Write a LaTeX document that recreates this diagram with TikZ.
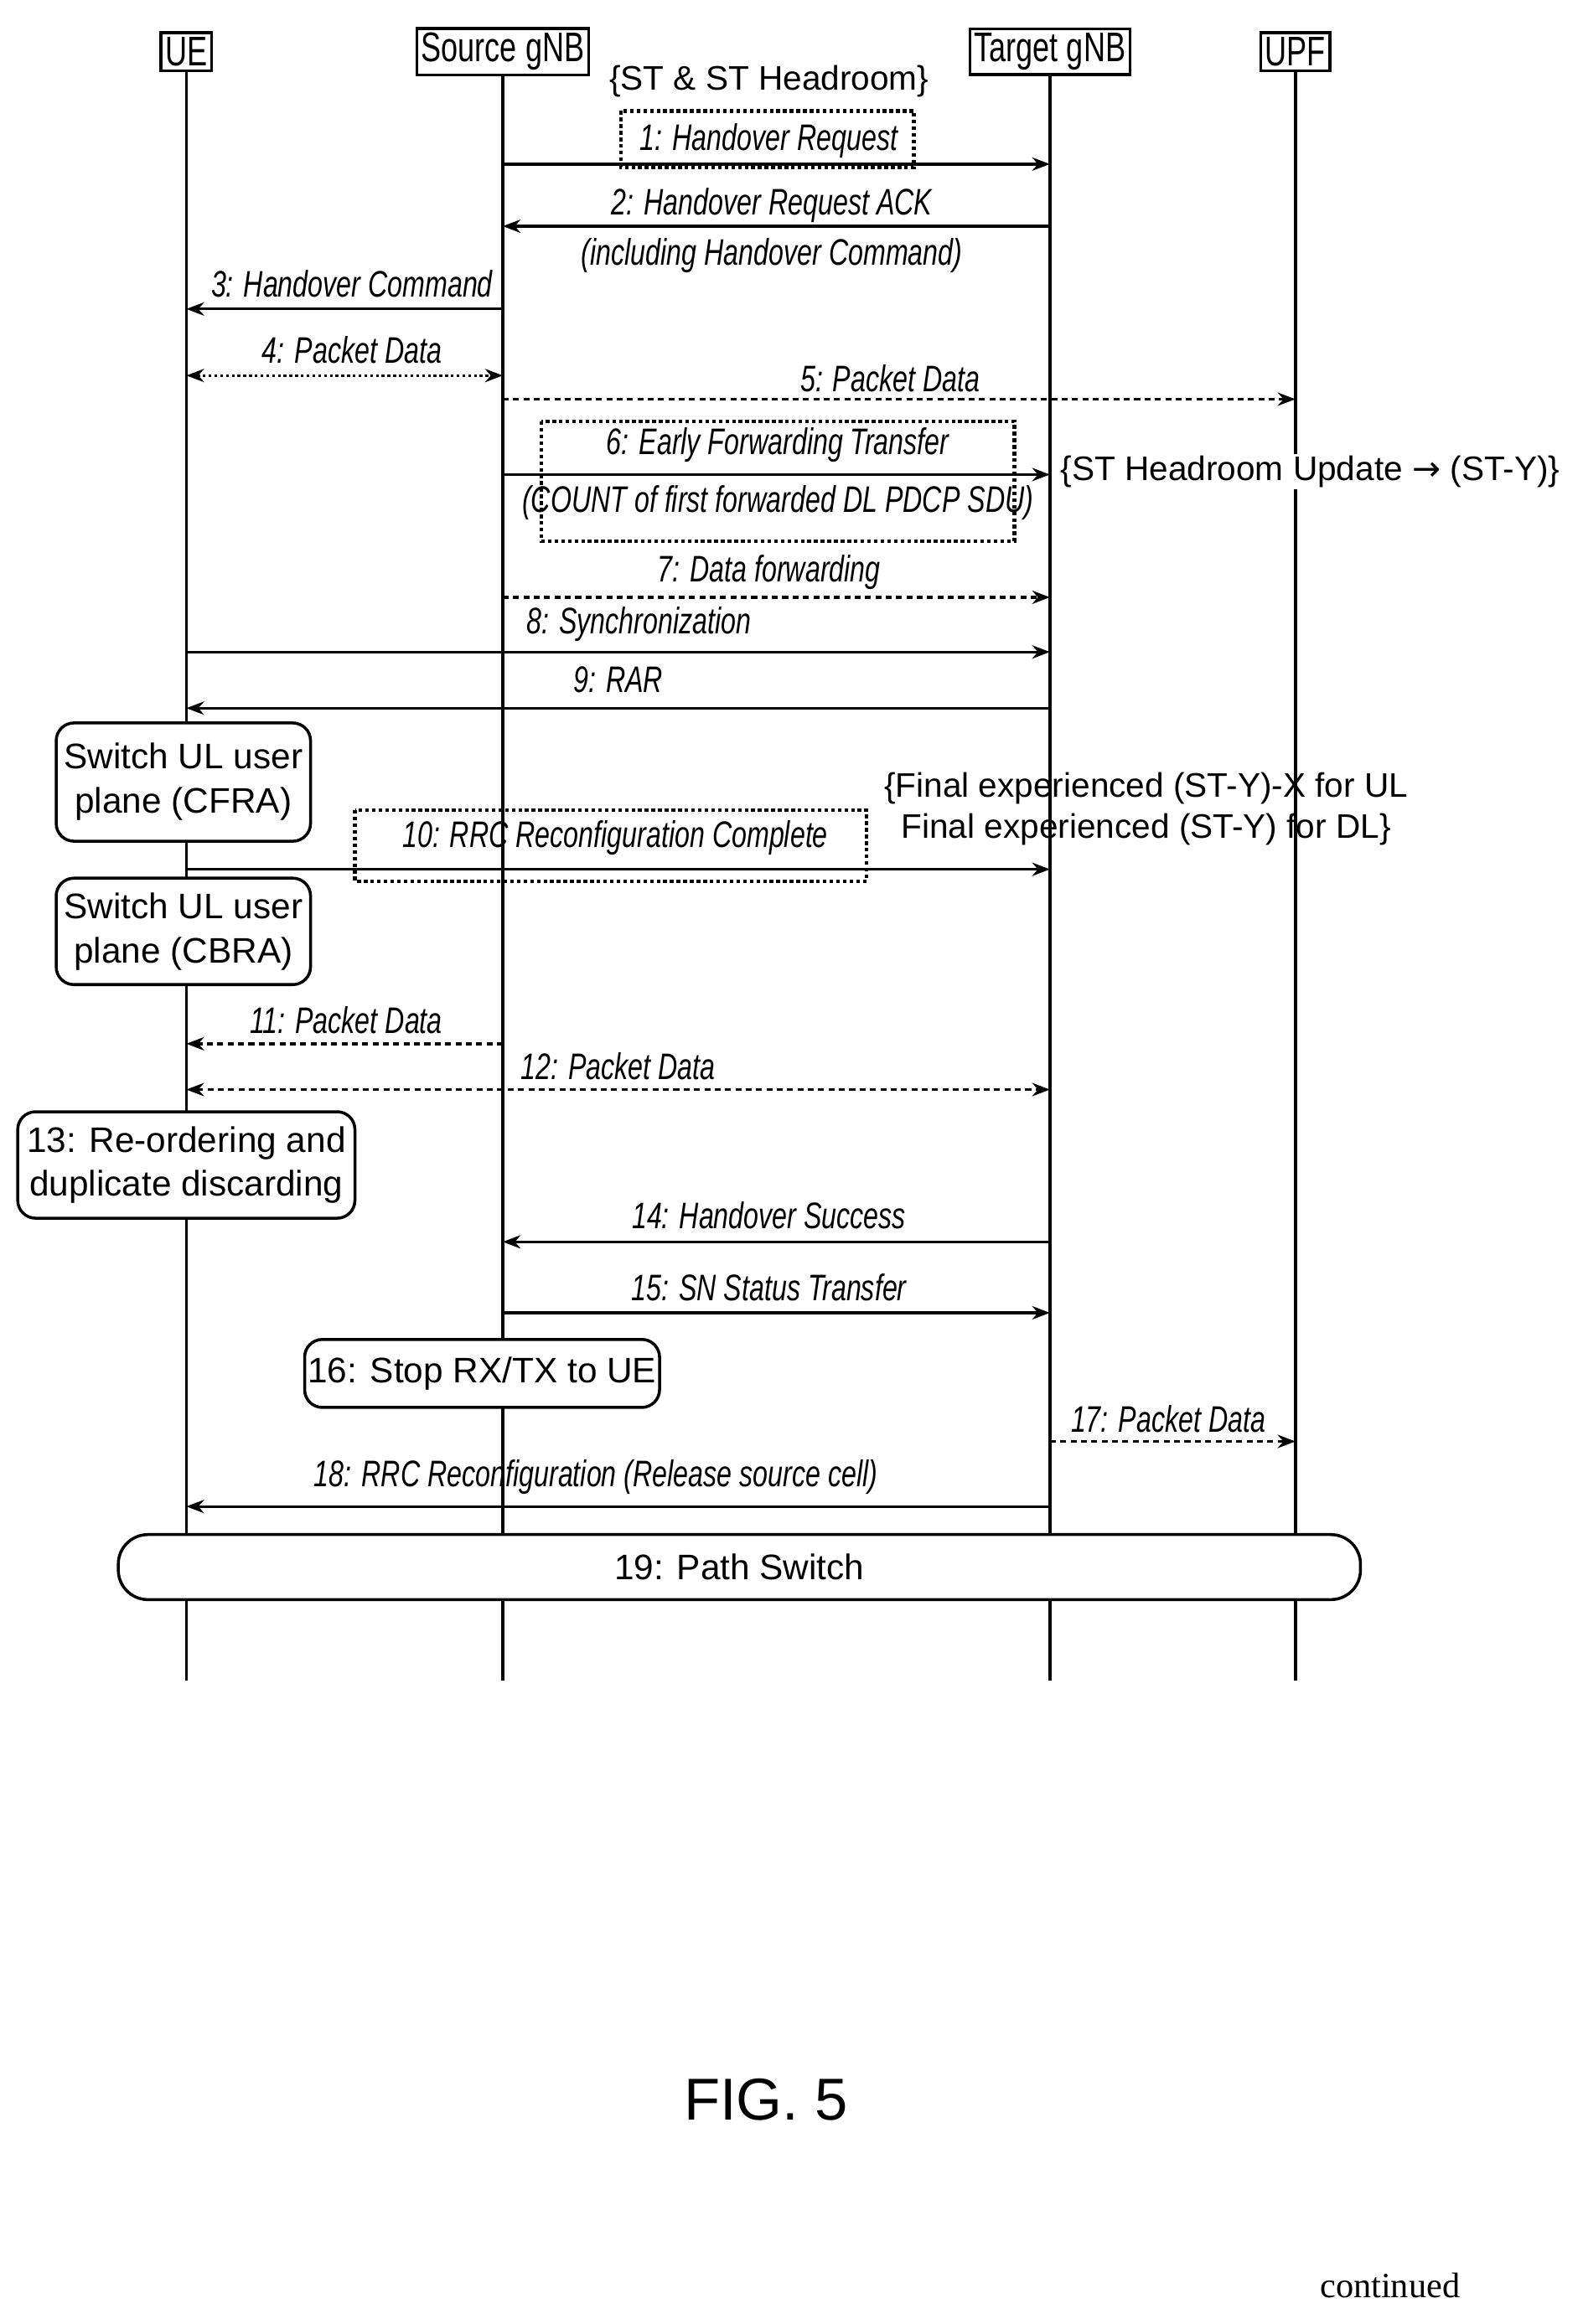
\documentclass[tikz,border=0pt]{standalone}
\usepackage{fontspec}
\setmainfont{Liberation Serif}
\newfontfamily\labf[FakeStretch=0.73]{Liberation Sans}
\newfontfamily\boxf{Liberation Sans}
\newfontfamily\symf{DejaVu Sans}
\usetikzlibrary{arrows.meta}
\begin{document}
\begin{tikzpicture}[x=1pt,y=-1pt,
  life/.style={line width=2pt},
  hdr/.style={draw,line width=2pt,inner sep=3pt,font=\labf\fontsize{28}{30}\selectfont},
  msg/.style={line width=1.9pt,-{Stealth[length=12pt,width=9pt]}},
  dmsg/.style={msg,dash pattern=on 4pt off 3pt},
  bmsg/.style={line width=1.9pt,{Stealth[length=12pt,width=9pt]}-{Stealth[length=12pt,width=9pt]}},
  lab/.style={font=\labf\itshape\fontsize{25}{28}\selectfont,inner sep=1pt},
  up/.style={font=\boxf\fontsize{23}{28}\selectfont,align=center,inner sep=1pt},
  rbox/.style={draw,line width=2pt,rounded corners=12pt,font=\boxf\fontsize{24}{30}\selectfont,align=center,inner sep=0pt},
  dbox/.style={draw,line width=2.5pt,dotted}]
\useasboundingbox (0,0) rectangle (1070,1572);
\fill[white] (0,0) rectangle (1070,1572);
% headers
\node[hdr] (ue) at (126,35) {UE};
\node[hdr] (sg) at (340,35) {Source gNB};
\node[hdr] (tg) at (710,35) {Target gNB};
\node[hdr] (upf) at (876,35) {UPF};
\coordinate (ueE) at (126,1137); \coordinate (sgE) at (340,1137);
\coordinate (tgE) at (710,1137); \coordinate (upfE) at (876,1137);
\draw[life] (ue.south)--(ueE); \draw[life] (sg.south)--(sgE);
\draw[life] (tg.south)--(tgE); \draw[life] (upf.south)--(upfE);
\foreach \n/\x in {ue/126,sg/340,tg/710,upf/876}{
 \foreach \y in {111,153,209,254,270,321,404,441,479,588,706,737,840,888,975,1019}{
   \coordinate (\n\y) at (\x,\y);}}
% 1
\node[up] (st) at (520,55) {\{ST \& ST Headroom\}};
\draw[dbox] (420,75) rectangle (618,113);
\node[lab] (l1) at (520,95) {1: Handover Request};
\draw[msg] (sg111)--(tg111);
% 2
\draw[msg] (tg153)--(sg153);
\node[lab] (l2) at (522,139) {2: Handover Request ACK};
\node[lab] (l2b) at (522,173) {(including Handover Command)};
% 3
\draw[msg] (sg209)--(ue209);
\node[lab] (l3) at (238,192) {3: Handover Command};
% 4
\draw[bmsg,dotted] (ue254)--(sg254);
\node[lab] (l4) at (238,237) {4: Packet Data};
% 5
\draw[dmsg] (sg270)--(upf270);
\node[lab] (l5) at (602,256) {5: Packet Data};
% 6
\draw[dbox] (366,285) rectangle (686,366);
\draw[msg] (sg321)--(tg321);
\node[lab] (l6) at (526,301) {6: Early Forwarding Transfer};
\node[lab] (l6b) at (526,340) {(COUNT of first forwarded DL PDCP SDU)};
\node[up,anchor=west,fill=white] (sth) at (716,319) {\{ST Headroom Update {\symf →} (ST-Y)\}};
% 7
\draw[dmsg] (sg404)--(tg404);
\node[lab] (l7) at (520,387) {7: Data forwarding};
% 8
\draw[msg] (ue441)--(tg441);
\node[lab] (l8) at (432,422) {8: Synchronization};
% 9
\draw[msg] (tg479)--(ue479);
\node[lab] (l9) at (418,460) {9: RAR};
% CFRA
\node[rbox,minimum width=172pt,minimum height=80pt,fill=white] (cfra) at (124,529) {Switch UL user\\plane (CFRA)};
\node[up] (fin) at (775,547) {\{Final experienced (ST-Y)-X for UL\\Final experienced (ST-Y) for DL\}};
% 10
\draw[dbox] (240,548) rectangle (586,596);
\draw[msg] (ue588)--(tg588);
\node[lab] (l10) at (416,567) {10: RRC Reconfiguration Complete};
% CBRA
\node[rbox,minimum width=172pt,minimum height=72pt,fill=white] (cbra) at (124,630) {Switch UL user\\plane (CBRA)};
% 11
\draw[dmsg] (sg706)--(ue706);
\node[lab] (l11) at (234,690) {11: Packet Data};
% 12
\draw[bmsg,dash pattern=on 4pt off 3pt] (ue737)--(tg737);
\node[lab] (l12) at (418,721) {12: Packet Data};
% 13
\node[rbox,minimum width=228pt,minimum height=72pt,fill=white] (b13) at (126,788) {13: Re-ordering and\\duplicate discarding};
% 14
\draw[msg] (tg840)--(sg840);
\node[lab] (l14) at (520,822) {14: Handover Success};
% 15
\draw[msg] (sg888)--(tg888);
\node[lab] (l15) at (520,871) {15: SN Status Transfer};
% 16
\node[rbox,minimum width=240pt,minimum height=46pt,fill=white] (b16) at (326,929) {16: Stop RX/TX to UE};
% 17
\draw[dmsg] (tg975)--(upf975);
\node[lab] (l17) at (790,960) {17: Packet Data};
% 18
\draw[msg] (tg1019)--(ue1019);
\node[lab] (l18) at (403,999) {18: RRC Reconfiguration (Release source cell)};
% 19
\node[rbox,rounded corners=20pt,minimum width=840pt,minimum height=44pt,fill=white] (b19) at (500,1060) {19: Path Switch};
\node[font=\boxf\fontsize{40}{44}\selectfont] (fig) at (518,1420) {FIG. 5};
\node[font=\fontsize{24}{26}\selectfont] (cont) at (940,1546) {continued};
\end{tikzpicture}
\end{document}
